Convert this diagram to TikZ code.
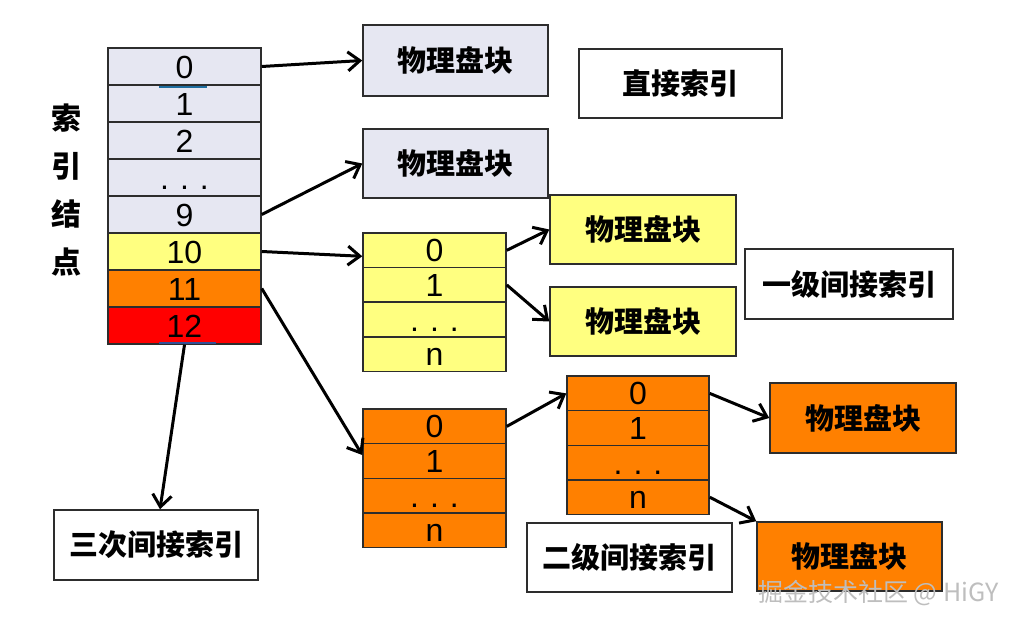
\documentclass[tikz,border=0pt]{standalone}
\usepackage{fontspec}
\setmainfont{Liberation Sans}
\newfontfamily\cjk{Noto Sans CJK SC}
\usetikzlibrary{arrows.meta}
\definecolor{lav}{RGB}{230,231,242}
\definecolor{ylw}{RGB}{255,255,128}
\definecolor{org}{RGB}{255,128,0}
\definecolor{rd}{RGB}{255,0,0}
\definecolor{edgecol}{RGB}{45,45,45}
\definecolor{wmcol}{RGB}{190,190,190}
\definecolor{cursorA}{RGB}{30,110,160}
\definecolor{cursorB}{RGB}{50,80,150}
\newcommand\threedots{.\hspace{11pt}.\hspace{11pt}.}
\begin{document}
\begin{tikzpicture}[x=1pt,y=-1pt,
  cell/.style={draw=edgecol,line width=1.5pt,inner sep=0pt,text height=23pt,text depth=0pt,font=\fontsize{32}{32}\selectfont},
  idx/.style={cell,minimum width=153pt,minimum height=37pt},
  tab/.style={cell,minimum width=143pt,minimum height=34.6pt},
  box/.style={draw=edgecol,line width=1.5pt,inner sep=0pt,font=\cjk\bfseries\fontsize{29}{29}\selectfont},
  arr/.style={draw=black,line width=3pt,-{Straight Barb[length=12pt,width=19pt,line width=3pt]}},
]
\useasboundingbox (0,0) rectangle (1020,626);

% index node
\node[idx,fill=lav] (i0) at (184.5,66.5) {0};
\node[idx,fill=lav] (i1) at (184.5,103.5) {1};
\node[idx,fill=lav] (i2) at (184.5,140.5) {2};
\node[idx,fill=lav] (i3) at (184.5,177.5) {\threedots};
\node[idx,fill=lav] (i4) at (184.5,214.5) {9};
\node[idx,fill=ylw] (i5) at (184.5,251.5) {10};
\node[idx,fill=org] (i6) at (184.5,288.5) {11};
\node[idx,fill=rd]  (i7) at (184.5,325.5) {12};
\draw[cursorA,line width=2pt] (159,87) -- (207,87);
\draw[cursorB,line width=2pt] (159,343) -- (216,343);

\node[font=\cjk\bfseries\fontsize{30}{48}\selectfont,align=center,inner sep=0pt] (lbl) at (66,190) {索\\引\\结\\点};

% direct blocks
\node[box,fill=lav,minimum width=185pt,minimum height=71pt] (pA) at (455.5,60.5) {物理盘块};
\node[box,fill=lav,minimum width=185pt,minimum height=69pt] (pB) at (455.5,163.5) {物理盘块};
\node[box,fill=white,minimum width=203pt,minimum height=69pt] (dl) at (680.5,83.5) {直接索引};

% single indirect
\node[tab,fill=ylw] (y0) at (434.5,250.3) {0};
\node[tab,fill=ylw] (y1) at (434.5,284.9) {1};
\node[tab,fill=ylw] (y2) at (434.5,319.5) {\threedots};
\node[tab,fill=ylw] (y3) at (434.5,354.1) {n};
\node[box,fill=ylw,minimum width=186pt,minimum height=69pt] (yb1) at (643,229.5) {物理盘块};
\node[box,fill=ylw,minimum width=186pt,minimum height=69pt] (yb2) at (643,321.5) {物理盘块};
\node[box,fill=white,minimum width=208pt,minimum height=70pt] (sl) at (849,284) {一级间接索引};

% double indirect
\node[tab,fill=org] (a0) at (434.5,426.4) {0};
\node[tab,fill=org] (a1) at (434.5,461.0) {1};
\node[tab,fill=org] (a2) at (434.5,495.6) {\threedots};
\node[tab,fill=org] (a3) at (434.5,530.2) {n};
\node[tab,fill=org,minimum width=142pt] (b0) at (638,393.4) {0};
\node[tab,fill=org,minimum width=142pt] (b1) at (638,428.0) {1};
\node[tab,fill=org,minimum width=142pt] (b2) at (638,462.6) {\threedots};
\node[tab,fill=org,minimum width=142pt] (b3) at (638,497.2) {n};
\node[box,fill=org,minimum width=186pt,minimum height=70pt] (ob1) at (863,418) {物理盘块};
\node[box,fill=org,minimum width=185pt,minimum height=69pt] (ob2) at (849.5,556.5) {物理盘块};
\node[box,fill=white,minimum width=205pt,minimum height=69pt] (dbl) at (629.5,557.5) {二级间接索引};

% triple indirect
\node[box,fill=white,minimum width=204pt,minimum height=70pt] (tl) at (156,545) {三次间接索引};

% connectors
\draw[arr] (i0.east) -- (pA.west);
\draw[arr] (i4.east) -- (pB.west);
\draw[arr] (i5.east) -- ([yshift=-6pt]y0.west);
\draw[arr] (i6.east) -- ([yshift=6pt]a1.west);
\draw[arr] (i7.south) -- ([xshift=4pt]tl.north);
\draw[arr] (y0.east) -- (yb1.west);
\draw[arr] (y1.east) -- (yb2.west);
\draw[arr] (a0.east) -- (b0.west);
\draw[arr] (b0.east) -- (ob1.west);
\draw[arr] (b3.east) -- (ob2.north west);

\node[anchor=west,inner sep=0pt,text=wmcol,font=\cjk\fontsize{25}{25}\selectfont] (wm) at (758,593) {掘金技术社区 @ HiGY};
\end{tikzpicture}
\end{document}
